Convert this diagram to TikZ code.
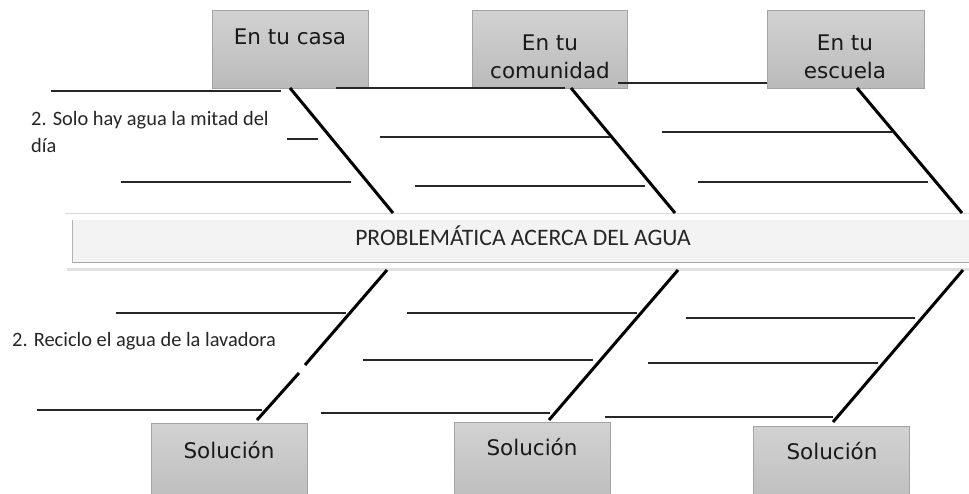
\documentclass[tikz,border=0pt]{standalone}
\usepackage{fontspec}
\setmainfont{Carlito}
\newfontfamily\boxfont{DejaVu Sans}
\definecolor{boxtop}{HTML}{D2D2D2}
\definecolor{boxbot}{HTML}{BABABA}
\definecolor{boxborder}{HTML}{A4A4A4}
\definecolor{barfill}{HTML}{F3F3F3}
\definecolor{baredge}{HTML}{A8A8A8}
\begin{document}
\begin{tikzpicture}[x=1pt,y=-1pt,
  catbox/.style={draw=boxborder, line width=0.8pt, top color=boxtop, bottom color=boxbot, inner sep=0pt, minimum width=156pt, minimum height=78pt},
  boxlbl/.style={font=\boxfont\fontsize{21.5}{27.5}\selectfont, align=center, inner sep=0pt, text=black!90},
  bodytxt/.style={font=\fontsize{20.4}{27}\selectfont, align=left, inner sep=0pt, text=black!85},
  bone/.style={line width=3pt, black},
  rib/.style={line width=1.3pt, black!85}
]
\clip (0,0) rectangle (969,494);
\fill[white] (0,0) rectangle (969,494);

% ---- top category boxes
\node[catbox, anchor=north west] (casa) at (212,10) {};
\node[catbox, anchor=north west, minimum width=155pt] (comunidad) at (472,10) {};
\node[catbox, anchor=north west, minimum width=157pt] (escuela) at (767,10) {};
\node[boxlbl, anchor=base] (casaT) at (290,45) {En tu casa};
\node[boxlbl, anchor=north] (comunidadT) at (550,35) {En tu\\comunidad};
\node[boxlbl, anchor=north] (escuelaT) at (845,35) {En tu\\escuela};

% ---- bottom solution boxes
\node[catbox, anchor=north west, minimum height=90pt] (sol1) at (151,423) {};
\node[catbox, anchor=north west, minimum height=90pt] (sol2) at (454,422) {};
\node[catbox, anchor=north west, minimum height=90pt] (sol3) at (753,426) {};
\node[boxlbl, anchor=base] (sol1T) at (229,458) {Solución};
\node[boxlbl, anchor=base] (sol2T) at (532,455) {Solución};
\node[boxlbl, anchor=base] (sol3T) at (832,459) {Solución};

% ---- central spine bar
\fill[black!12] (67,216) rectangle (985,271);
\fill[white] (65,213) rectangle (985,268);
\draw[black!15, line width=0.6pt] (65,213) -- (985,213);
\node[draw=none, fill=barfill, anchor=north west, minimum width=910pt, minimum height=42pt, inner sep=0pt] (bar) at (72,220) {};
\draw[baredge, line width=1.2pt] (bar.south west) -- (bar.south east);
\draw[black!30, line width=1pt] (bar.north west) -- (bar.south west);
\node[font=\fontsize{23.6}{26}\selectfont, text=black!85, anchor=base] (barT) at (523,246) {PROBLEMÁTICA ACERCA DEL AGUA};

% ---- bones (named coordinates)
\coordinate (b1a) at (290,88);  \coordinate (b1b) at (393,213);
\coordinate (b2a) at (571,88);  \coordinate (b2b) at (675,213);
\coordinate (b3a) at (857,88);  \coordinate (b3b) at (962,213);
\coordinate (b4a) at (387,270); \coordinate (b4m) at (305,365);
\coordinate (b4n) at (299,373); \coordinate (b4b) at (257,420);
\coordinate (b5a) at (678,270); \coordinate (b5b) at (549,420);
\coordinate (b6a) at (963,270); \coordinate (b6b) at (833,422);
\draw[bone] (b1a) -- (b1b);
\draw[bone] (b2a) -- (b2b);
\draw[bone] (b3a) -- (b3b);
\draw[bone] (b4a) -- (b4m);
\draw[bone] (b4n) -- (b4b);
\draw[bone] (b5a) -- (b5b);
\draw[bone] (b6a) -- (b6b);

% ---- ribs
\foreach \n/\xa/\xb/\yy in {
  1/51/281/91, 2/336/565/88, 3/618/767/83, 4/287/318/139,
  5/380/610/137, 6/121/351/182, 7/415/645/186, 8/662/892/132,
  9/698/928/182,
  10/116/346/313, 11/407/637/313, 12/363/593/360, 13/37/262/410,
  14/321/550/413, 15/686/915/318, 16/648/878/363, 17/605/833/417}{
  \coordinate (r\n a) at (\xa,\yy);
  \coordinate (r\n b) at (\xb,\yy);
  \draw[rib] (r\n a) -- (r\n b);
}

% ---- texts
\node[bodytxt, anchor=base west] (t1) at (31,126) {2. Solo hay agua la mitad del};
\node[bodytxt, anchor=base west] (t1b) at (31,153) {día};
\node[bodytxt, anchor=base west] (t2) at (12,346) {2. Reciclo el agua de la lavadora};
\end{tikzpicture}
\end{document}
